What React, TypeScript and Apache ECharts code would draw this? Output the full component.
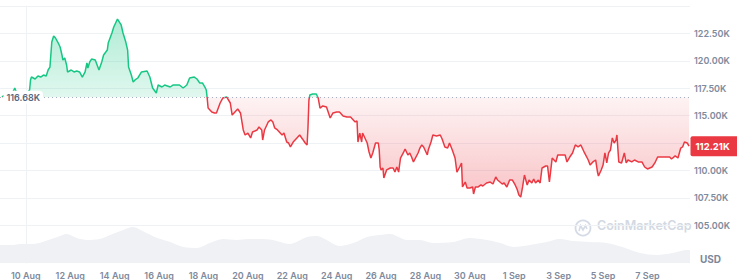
import React, { useEffect, useRef } from 'react';
import * as echarts from 'echarts';

// hours since 10 Aug 00:00
const hours = [
  -26, -19, -14, -12, -10, -4, 2, 4, 5, 6, 10, 13, 16, 19, 22, 24, 26, 28, 30, 32,
  35, 37, 39, 40, 42, 44, 45, 49, 52, 55, 58, 61, 64, 66, 67, 69, 71, 75, 77, 79,
  82, 84, 88, 89, 93, 95, 98, 99, 103, 105, 108, 110, 111, 114, 116, 118, 121, 125, 131, 134,
  137, 141, 143, 147, 150, 156, 159, 166, 170, 174, 177, 182, 185, 188, 191, 194, 195, 196, 197, 199,
  201, 204, 206, 210, 213, 217, 221, 223, 226, 229, 232, 235, 237, 240, 243, 245, 250, 252, 255, 256,
  258, 262, 265, 267, 269, 272, 277, 279, 282, 284, 286, 289, 293, 296, 299, 302, 304, 305, 306, 307,
  310, 314, 316, 318, 321, 325, 329, 332, 336, 339, 343, 347, 351, 356, 358, 359, 361, 363, 364, 366,
  369, 371, 373, 375, 378, 381, 382, 383, 384, 386, 387, 390, 394, 397, 399, 401, 403, 405, 408, 410,
  413, 415, 417, 419, 424, 426, 428, 430, 434, 435, 438, 440, 444, 448, 450, 453, 456, 458, 461, 464,
  466, 469, 471, 472, 475, 477, 480, 483, 484, 486, 489, 492, 494, 498, 502, 505, 508, 510, 515, 517,
  520, 523, 526, 529, 531, 533, 535, 537, 539, 542, 544, 547, 549, 551, 554, 556, 558, 562, 564, 566,
  569, 573, 575, 579, 583, 585, 588, 591, 594, 597, 600, 602, 604, 608, 610, 613, 616, 618, 619, 622,
  624, 626, 628, 630, 632, 634, 636, 638, 639, 641, 644, 647, 649, 651, 655, 658, 662, 666, 669, 672,
  677, 680, 683, 687, 690, 696, 698, 702, 705, 708, 710, 712, 715, 717,
];

// BTC price, thousands of USD
const prices = [
  116.70, 117.06, 117.15, 117.52, 117.06, 116.88, 117.15, 117.34, 118.25, 118.52, 118.34, 118.61, 118.52, 118.70, 118.61, 119.16, 119.43, 121.71, 122.26, 122.08,
  121.62, 121.26, 120.53, 120.07, 120.25, 119.62, 118.98, 119.16, 118.98, 119.07, 118.98, 118.52, 118.98, 119.80, 119.34, 119.89, 120.16, 120.07, 119.62, 119.16,
  119.89, 120.53, 120.98, 121.62, 122.54, 123.08, 123.63, 123.81, 123.27, 122.54, 121.71, 120.98, 119.43, 118.70, 118.07, 118.25, 118.43, 118.98, 119.07, 118.52,
  117.52, 117.06, 117.79, 117.61, 117.79, 117.61, 117.79, 117.79, 117.52, 117.79, 118.43, 118.52, 118.34, 117.97, 117.97, 117.52, 117.34, 116.61, 115.69, 115.51,
  115.33, 115.24, 115.24, 116.15, 116.61, 116.70, 116.15, 115.05, 115.33, 115.60, 115.24, 113.69, 113.23, 113.41, 112.96, 113.50, 113.69, 113.96, 113.69, 112.77,
  113.69, 114.42, 114.60, 114.42, 113.87, 113.69, 113.23, 113.41, 112.59, 112.50, 112.14, 112.59, 112.96, 113.23, 112.87, 112.50, 112.32, 113.96, 116.42, 116.88,
  116.97, 116.97, 116.61, 115.69, 115.88, 115.78, 114.78, 115.24, 115.33, 115.33, 114.96, 114.87, 114.87, 114.42, 114.51, 112.59, 113.41, 112.59, 113.41, 113.05,
  112.50, 111.68, 111.13, 111.59, 112.50, 112.50, 111.86, 110.31, 110.04, 110.22, 109.31, 110.04, 110.22, 110.22, 109.85, 110.31, 109.85, 111.13, 111.59, 111.95,
  111.41, 111.59, 111.22, 110.77, 111.59, 112.04, 112.32, 112.14, 111.41, 111.86, 112.59, 113.23, 113.14, 113.23, 112.87, 112.14, 112.04, 112.50, 111.86, 111.13,
  109.85, 110.31, 110.68, 108.49, 108.94, 108.39, 108.39, 108.49, 107.85, 108.49, 108.49, 108.67, 108.58, 108.85, 108.94, 108.76, 109.40, 109.12, 108.76, 108.85,
  108.49, 109.12, 109.12, 108.67, 108.30, 107.76, 107.57, 108.49, 109.58, 108.67, 109.12, 108.85, 109.22, 108.85, 109.12, 108.85, 110.22, 110.40, 110.40, 108.94,
  111.13, 110.77, 111.41, 111.41, 111.41, 110.77, 111.22, 111.59, 112.32, 112.14, 112.32, 111.95, 111.59, 110.95, 110.49, 110.77, 110.95, 109.85, 109.49, 110.04,
  110.49, 111.59, 110.68, 111.59, 111.86, 112.96, 112.50, 112.77, 113.23, 110.77, 110.68, 111.59, 110.68, 110.95, 110.77, 110.95, 110.77, 110.77, 110.31, 110.13,
  110.31, 110.68, 111.22, 111.22, 111.22, 111.22, 111.04, 111.32, 111.13, 112.04, 112.14, 112.59, 112.50, 112.21,
];

// 24h volume, billions of USD
const volHours = [
  -28, -14, -6, 8, 18, 34, 44, 55, 66, 80, 91, 105, 116, 126, 142, 156, 170, 185, 199, 213,
  228, 240, 253, 267, 285, 304, 315, 325, 339, 354, 369, 383, 394, 412, 426, 440, 462, 480, 498, 513,
  527, 545, 563, 577, 591, 610, 628, 645, 664, 682, 699, 715, 718,
];
const volumes = [
  36, 36, 38, 38, 42, 52, 58, 50, 46, 48, 56, 66, 72, 64, 50, 42, 32, 30, 40, 48,
  46, 48, 48, 46, 38, 52, 54, 46, 34, 40, 52, 56, 58, 46, 46, 40, 42, 50, 46, 40,
  32, 36, 42, 48, 44, 42, 40, 32, 20, 16, 20, 26, 26,
];

const tickHours = [0, 48, 96, 144, 192, 240, 288, 336, 384, 432, 480, 528, 576, 624, 672];
const tickLabels = ['10 Aug', '12 Aug', '14 Aug', '16 Aug', '18 Aug', '20 Aug', '22 Aug', '24 Aug', '26 Aug', '28 Aug', '30 Aug', '1 Sep', '3 Sep', '5 Sep', '7 Sep'];

const BASE_PRICE = 116.68;
const LAST_PRICE = 112.21;
const X_MIN = -28;
const X_MAX = 718;

const GREEN = '#16c784';
const RED = '#ea3943';
const FONT = 'Inter, "Noto Sans", sans-serif';

export default function App() {
  const ref = useRef<HTMLDivElement>(null);

  useEffect(() => {
    document.body.style.margin = '0';
    if (!ref.current) return;
    const chart = echarts.init(ref.current, undefined, { renderer: 'svg' });

    const pMax = Math.max(...prices);
    const pMin = Math.min(...prices);
    const t = (pMax - BASE_PRICE) / (pMax - pMin);

    const lineGrad = new echarts.graphic.LinearGradient(0, 0, 0, 1, [
      { offset: 0, color: GREEN },
      { offset: t, color: GREEN },
      { offset: t, color: RED },
      { offset: 1, color: RED },
    ]);
    const areaGrad = new echarts.graphic.LinearGradient(0, 0, 0, 1, [
      { offset: 0, color: 'rgba(22,199,132,0.34)' },
      { offset: t, color: 'rgba(22,199,132,0.13)' },
      { offset: t, color: 'rgba(234,57,67,0.06)' },
      { offset: 1, color: 'rgba(234,57,67,0.30)' },
    ]);

    const gridColor = '#eff2f5';
    const splitColors = ['rgba(0,0,0,0)', gridColor, gridColor, gridColor, gridColor, gridColor, gridColor, gridColor, gridColor, gridColor];

    chart.setOption({
      animation: false,
      backgroundColor: '#ffffff',
      textStyle: { fontFamily: FONT },
      grid: [
        { left: 0, right: 47, top: 6, bottom: 27.4 },
        { left: 0, right: 47, top: 223, bottom: 17 },
      ],
      xAxis: [
        { type: 'value', gridIndex: 0, min: X_MIN, max: X_MAX, show: false },
        {
          type: 'value', gridIndex: 1, min: X_MIN, max: X_MAX,
          axisLine: { show: false }, axisTick: { show: false }, splitLine: { show: false },
          axisLabel: {
            customValues: tickHours,
            margin: 8,
            color: '#808a9d', fontSize: 9, fontWeight: 600, fontFamily: FONT,
            formatter: (v: number) => {
              const i = tickHours.indexOf(v);
              return i >= 0 ? tickLabels[i] : '';
            },
          },
        },
      ],
      yAxis: [
        {
          type: 'value', gridIndex: 0, position: 'right', min: 102.5, max: 125, interval: 2.5,
          axisLine: { show: true, lineStyle: { color: gridColor } },
          axisTick: { show: false },
          splitLine: { show: true, lineStyle: { color: splitColors, width: 1 } },
          axisLabel: {
            showMinLabel: false, showMaxLabel: false, margin: 4,
            color: '#808a9d', fontSize: 9, fontWeight: 600, fontFamily: FONT,
            // the 112.50K tick label sits under the last-price tag in the reference
            formatter: (v: number) => (Math.abs(v - 112.5) < 1e-6 ? '' : v.toFixed(2) + 'K'),
          },
        },
        {
          type: 'value', gridIndex: 1, position: 'right', min: 0, max: 80,
          axisLine: { show: true, lineStyle: { color: gridColor } },
          axisTick: { show: false }, axisLabel: { show: false }, splitLine: { show: false },
        },
      ],
      series: [
        {
          type: 'line', xAxisIndex: 1, yAxisIndex: 1, z: 1,
          data: volHours.map((h, i) => [h, volumes[i]]),
          symbol: 'none', smooth: 0.3,
          lineStyle: { width: 0 },
          areaStyle: { color: '#eff1f5', opacity: 1 },
          silent: true,
        },
        {
          type: 'line', xAxisIndex: 0, yAxisIndex: 0, z: 3,
          data: hours.map((h, i) => [h, prices[i]]),
          symbol: 'none',
          lineStyle: { width: 1.5, color: lineGrad },
          areaStyle: { origin: BASE_PRICE, color: areaGrad, opacity: 1 },
          markLine: {
            silent: true, symbol: ['none', 'none'],
            data: [
              { yAxis: BASE_PRICE, lineStyle: { color: '#a6b0c3', type: [1, 3], width: 1 }, label: { show: false } },
            ],
          },
          markPoint: {
            silent: true,
            data: [
              {
                coord: [X_MIN, BASE_PRICE], symbol: 'circle', symbolSize: 1,
                itemStyle: { color: 'rgba(0,0,0,0)' },
                label: {
                  show: true, position: 'right', distance: 3, formatter: '116.68K',
                  backgroundColor: '#ffffff', borderRadius: 4, padding: [2, 3],
                  color: '#58667e', fontSize: 9, fontWeight: 600, fontFamily: FONT,
                },
              },
              {
                coord: [X_MAX, LAST_PRICE], symbol: 'circle', symbolSize: 1,
                itemStyle: { color: 'rgba(0,0,0,0)' },
                label: {
                  show: true, position: 'right', distance: 0, formatter: '112.21K',
                  backgroundColor: RED, borderRadius: 2, padding: [5, 12, 5, 5],
                  color: '#ffffff', fontSize: 9.5, fontWeight: 700, fontFamily: FONT,
                },
              },
            ],
          },
        },
      ],
      graphic: [
        {
          type: 'group', left: 573, top: 218, silent: true,
          children: [
            { type: 'circle', shape: { cx: 8, cy: 8, r: 7.5 }, style: { fill: 'none', stroke: '#d5dbe5', lineWidth: 1.8 } },
            { type: 'polyline', shape: { points: [[4, 11], [5.5, 5.5], [8, 10], [10.5, 5.5], [12, 9]] }, style: { fill: 'none', stroke: '#d5dbe5', lineWidth: 1.6 } },
          ],
        },
        {
          type: 'text', left: 597, top: 219, silent: true,
          style: { text: 'CoinMarketCap', fill: '#d3d9e3', fontSize: 12.5, fontWeight: 600, fontFamily: FONT },
        },
        {
          type: 'text', left: 700, top: 254, silent: true,
          style: { text: 'USD', fill: '#7d879a', fontSize: 10, fontWeight: 700, fontFamily: FONT },
        },
      ],
    });

    return () => chart.dispose();
  }, []);

  return <div ref={ref} style={{ width: 737, height: 280, position: 'absolute', left: 0, top: 0 }} />;
}
